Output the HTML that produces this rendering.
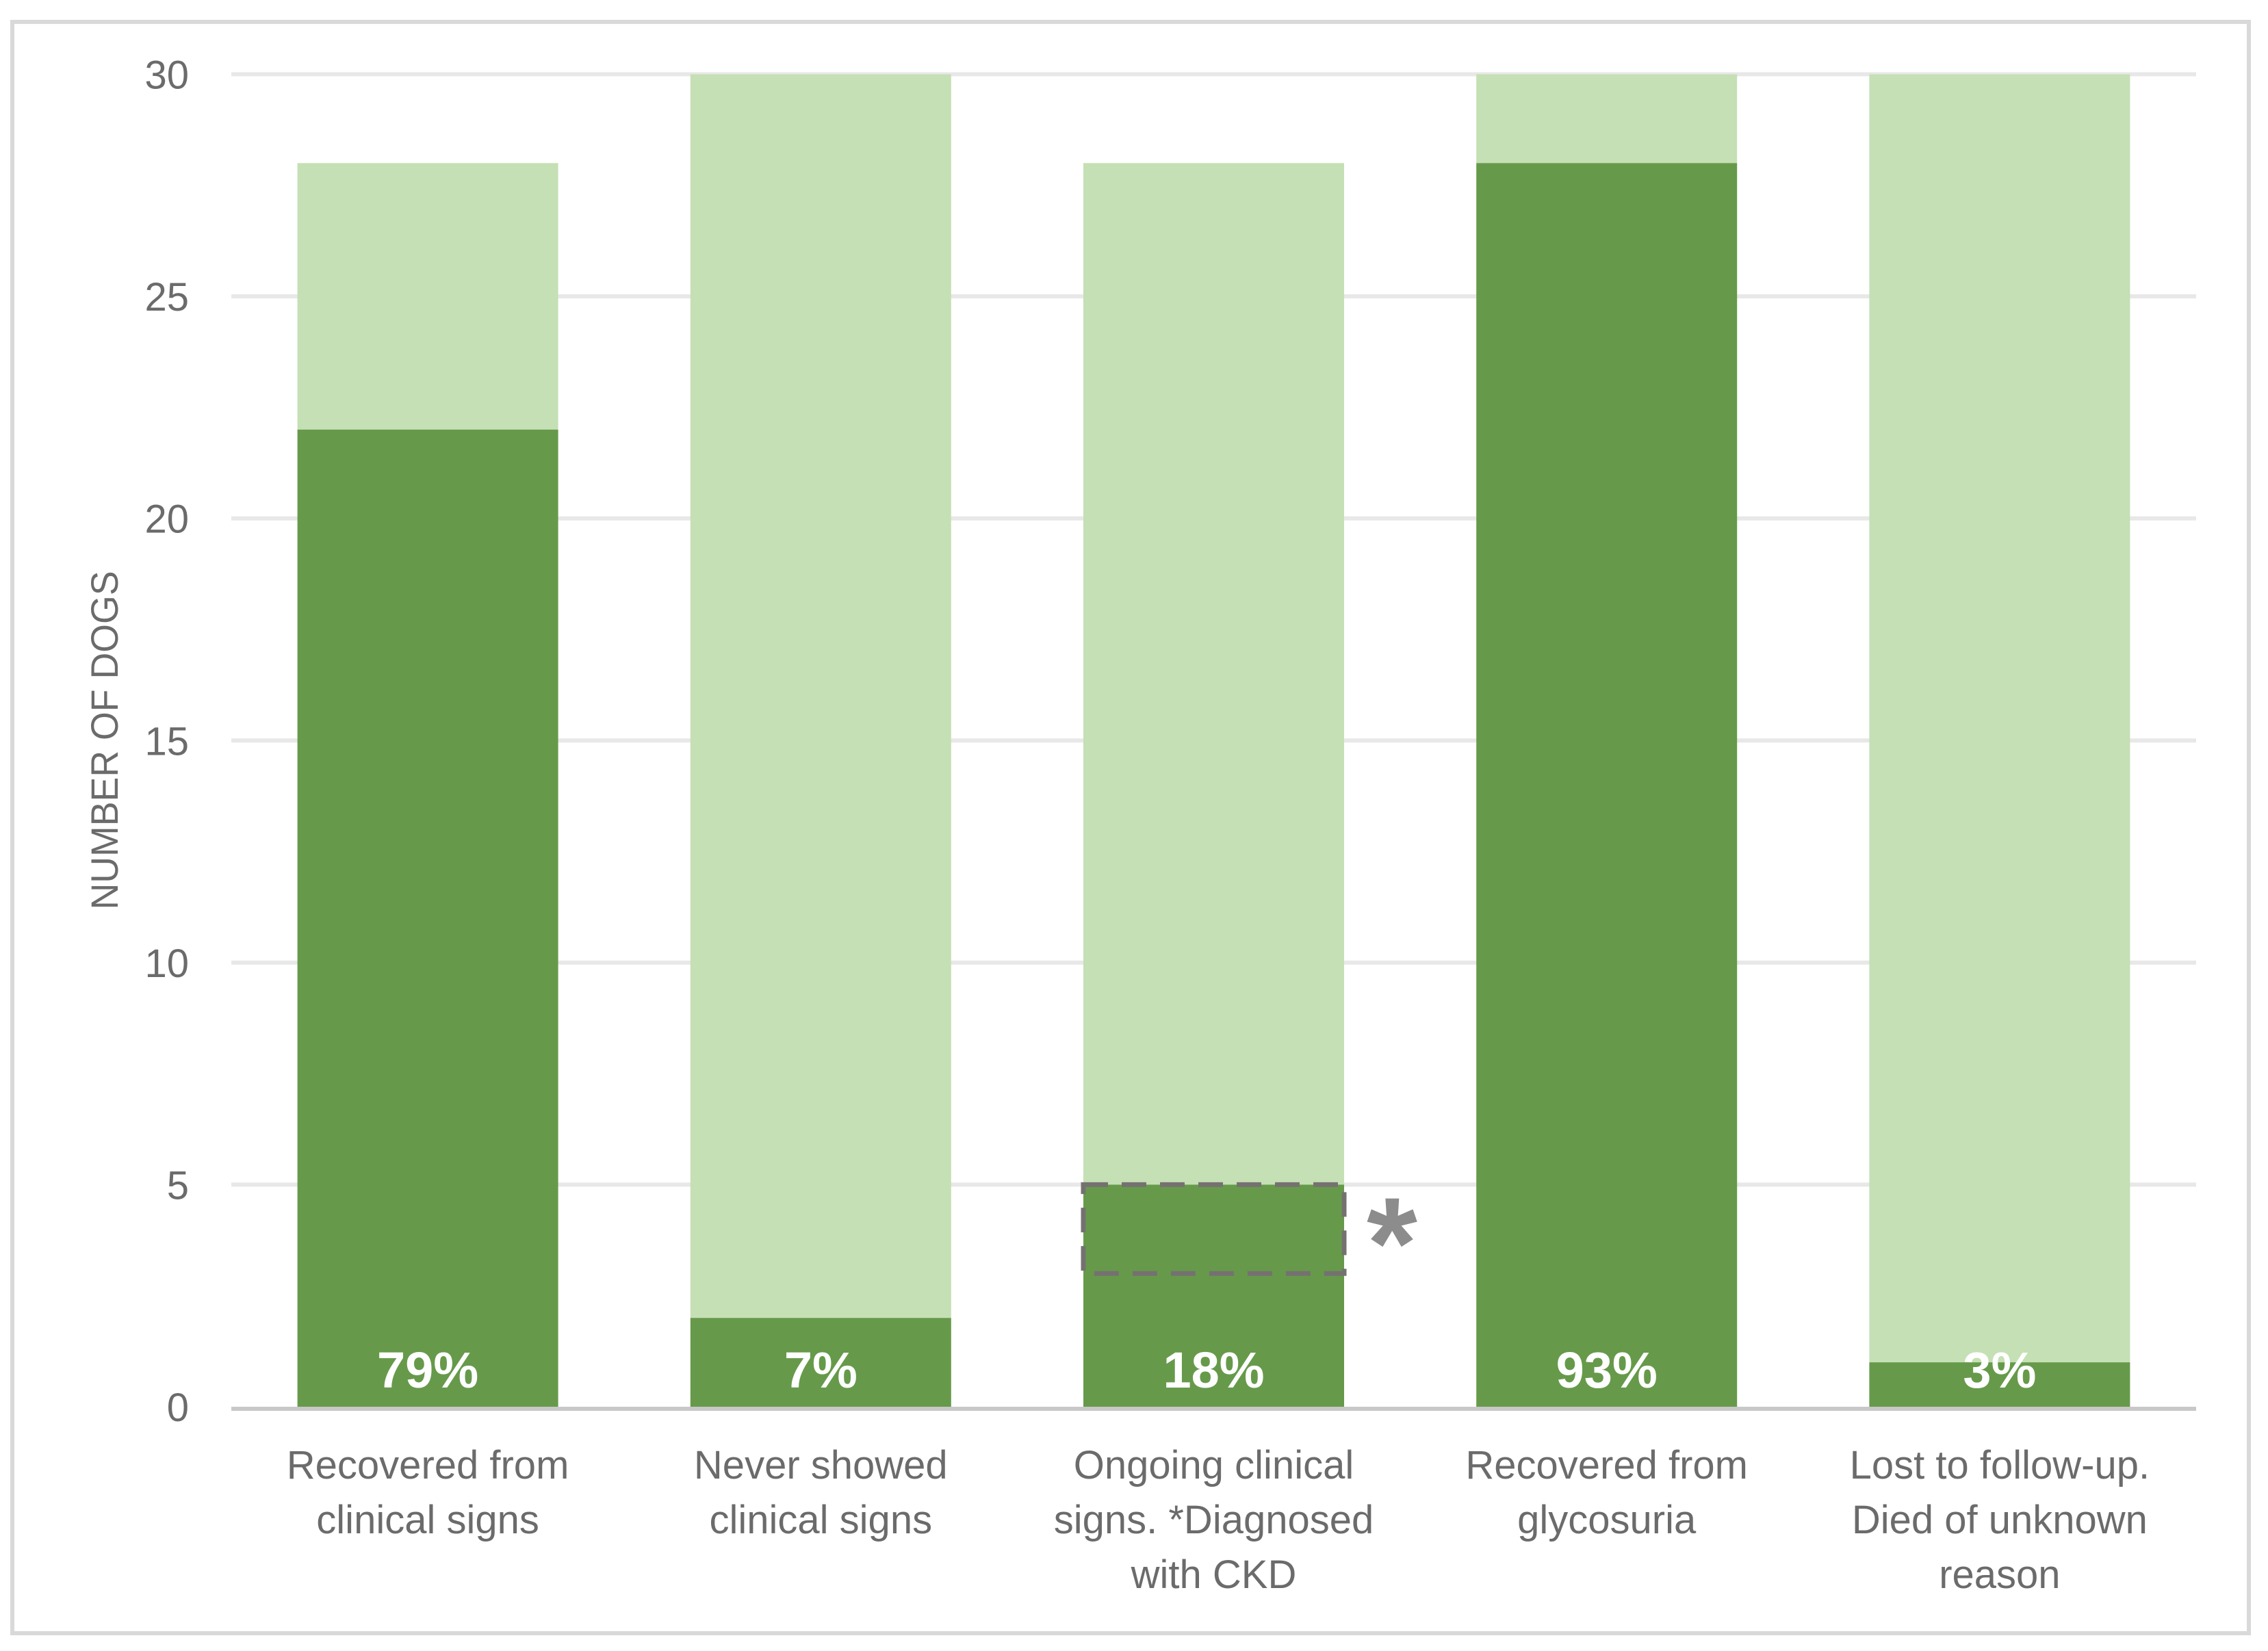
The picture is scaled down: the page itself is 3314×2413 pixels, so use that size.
<!DOCTYPE html>
<html><head><meta charset="utf-8"><style>
html,body{margin:0;padding:0;background:#fff;}
svg{display:block;}
text{font-family:"Liberation Sans",sans-serif;}
</style></head><body>
<svg id="chart" width="3314" height="2413" viewBox="0 0 3314 2413" xmlns="http://www.w3.org/2000/svg">
<rect x="18" y="32" width="3268" height="2355" fill="#fff" stroke="#d9d9d9" stroke-width="6"/>
<g id="grid"></g>
<g id="bars"></g>
<g id="labels"></g>
<text transform="translate(172,1082) rotate(-90)" text-anchor="middle" font-size="56" fill="#6b6b6b" textLength="495" lengthAdjust="spacingAndGlyphs">NUMBER OF DOGS</text>
</svg>
<script>
const categories = [["Recovered from","clinical signs"],["Never showed","clinical signs"],["Ongoing clinical","signs. *Diagnosed","with CKD"],["Recovered from","glycosuria"],["Lost to follow-up.","Died of unknown","reason"]];
const darkValues = [22, 2, 5, 28, 1];
const totalValues = [28, 30, 28, 30, 30];
const percentLabels = ["79%","7%","18%","93%","3%"];
const yTicks = [0,5,10,15,20,25,30];
const ckdRange = [3, 5];
const ckdIndex = 2;

const NS="http://www.w3.org/2000/svg";
const plotL=338, plotR=3209, y0=2056, y30=108.5, yMax=30;
const bandW=(plotR-plotL)/categories.length, barW=381;
function yScale(v){return y0-(y0-y30)*v/yMax;}
function xCenter(i){return plotL+bandW*(i+0.5);}
function mk(tag,attrs,parent){const e=document.createElementNS(NS,tag);for(const k in attrs)e.setAttribute(k,attrs[k]);parent.appendChild(e);return e;}
const grid=document.getElementById('grid'),bars=document.getElementById('bars'),labels=document.getElementById('labels');
yTicks.forEach(t=>{
  if(t>0){
    const l=mk('line',{x1:plotL,x2:plotR,y1:yScale(t),y2:yScale(t),stroke:'#e8e8e8','stroke-width':6},grid);
    
    
  }
  const tx=mk('text',{x:276,y:yScale(t)+21,'text-anchor':'end','font-size':58,fill:'#6b6b6b'},grid);
  tx.textContent=t;
  
  
});
categories.forEach((c,i)=>{
  const cx=xCenter(i), x=cx-barW/2;
  const light=mk('rect',{x:x,y:yScale(totalValues[i]),width:barW,height:yScale(darkValues[i])-yScale(totalValues[i]),fill:'#c5e0b4'},bars);
  
  
  const dark=mk('rect',{x:x,y:yScale(darkValues[i]),width:barW,height:y0-yScale(darkValues[i]),fill:'#669a4a'},bars);
  
  
  const pl=mk('text',{x:cx,y:2028,'text-anchor':'middle','font-size':74,'font-weight':'bold',fill:'#fff'},labels);
  pl.textContent=percentLabels[i];
  
  
  const cl=mk('text',{x:cx,y:2161,'text-anchor':'middle','font-size':58,fill:'#6b6b6b'},labels);
  
  
  c.forEach((line,j)=>{const ts=mk('tspan',{x:cx,dy:j?80:0},cl);ts.textContent=line;});
});
const base=mk('line',{x1:plotL,x2:plotR,y1:y0+3,y2:y0+3,stroke:'#c8c8c8','stroke-width':6},bars);


const bx=xCenter(ckdIndex)-barW/2;
const box=mk('rect',{x:bx,y:yScale(ckdRange[1]),width:barW,height:yScale(ckdRange[0])-yScale(ckdRange[1]),fill:'none',stroke:'#767171','stroke-width':7,'stroke-dasharray':'36 20'},labels);


const ast=mk('text',{x:bx+barW+70,y:yScale((ckdRange[0]+ckdRange[1])/2)+86,'text-anchor':'middle','font-size':190,'font-weight':'bold',fill:'#8c8c8c'},labels);
ast.textContent='*';


</script>
</body></html>
